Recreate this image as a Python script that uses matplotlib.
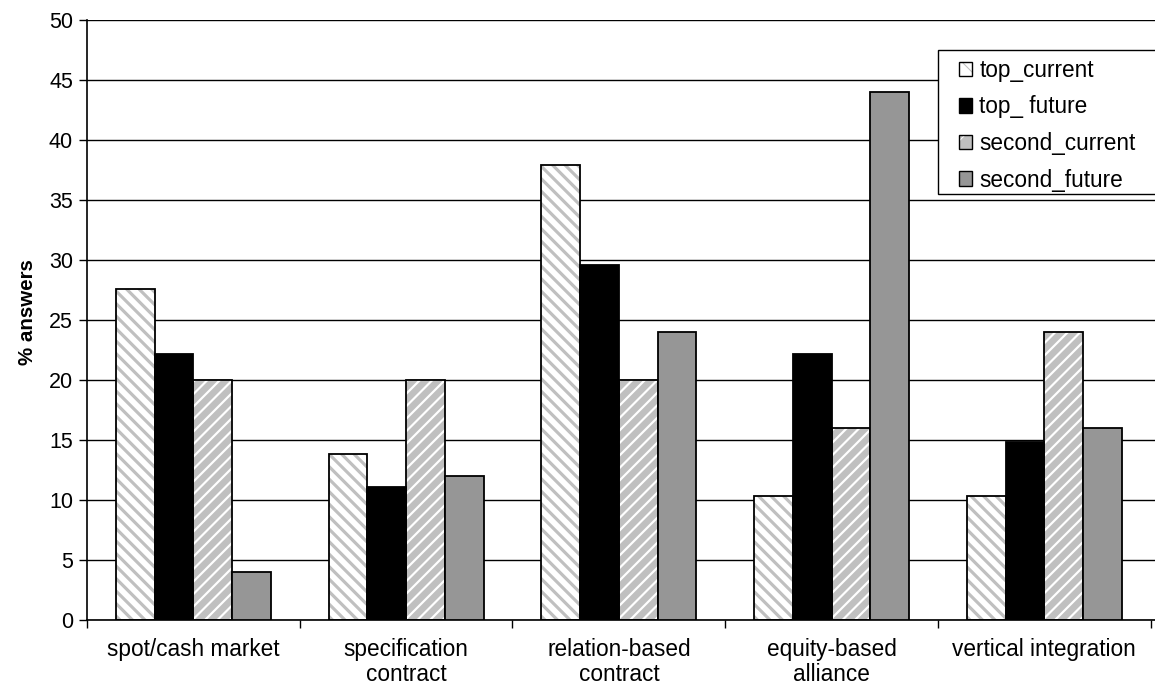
import matplotlib.pyplot as plt
import numpy as np

# drawn at 75 dpi so that the hatch spacing comes out right; point sizes scaled up
DPI = 75
S = 100 / DPI

plt.rcParams['font.family'] = ['Liberation Sans', 'DejaVu Sans']

categories = ['spot/cash market', 'specification\ncontract', 'relation-based\ncontract',
              'equity-based\nalliance', 'vertical integration']
top_current = [27.6, 13.8, 37.9, 10.3, 10.3]
top_future = [22.2, 11.1, 29.6, 22.2, 14.8]
second_current = [20, 20, 20, 16, 24]
second_future = [4, 12, 24, 44, 16]

fig = plt.figure(figsize=(1155 / DPI, 692 / DPI), dpi=DPI)
ax = fig.add_axes([87 / 1155, 1 - 620 / 692, 1 - 87 / 1155, 600 / 692])

x = np.arange(len(categories))
w = 0.182
series = [
    (top_current, 'top_current', 'white', '#c0c0c0', '\\\\', 3.8),
    (top_future, 'top_ future', 'black', None, None, 0),
    (second_current, 'second_current', '#c0c0c0', 'white', '//', 2.6),
    (second_future, 'second_future', '#969696', None, None, 0),
]
handles = []
for i, (vals, name, face, hcol, hatch, hlw) in enumerate(series):
    pos = x + (i - 1.5) * w
    outline = plt.Rectangle((0, 0), 1, 1, facecolor='none' if hatch else face,
                            edgecolor='black', linewidth=1 * S)
    if hatch:
        with plt.rc_context({'hatch.linewidth': hlw * 0.8}):
            ax.bar(pos, vals, w, color=face, edgecolor=hcol, hatch=hatch,
                   linewidth=0, zorder=2)
            fill = plt.Rectangle((0, 0), 1, 1, facecolor=face, edgecolor=hcol,
                                 hatch=hatch[0], linewidth=0)
        handles.append((fill, outline))
    else:
        handles.append(outline)
    ax.bar(pos, vals, w, facecolor='none' if hatch else face, edgecolor='black',
           linewidth=1.3 * S, zorder=3)

ax.set_ylim(0, 50)
ax.set_yticks(range(0, 51, 5))
ax.set_xlim(-0.5, 4.52)
ax.yaxis.grid(True, color='black', linewidth=1 * S)
ax.set_axisbelow(True)
ax.set_xticks(x)
ax.set_xticklabels(categories, fontsize=16.3 * S, linespacing=1.1)
ax.set_xticks(np.arange(-0.5, 5, 1), minor=True)
ax.tick_params(axis='x', which='major', length=0, pad=13 * S)
ax.tick_params(axis='x', which='minor', length=6 * S, width=1 * S, direction='out')
ax.tick_params(axis='y', labelsize=15.5 * S, length=6 * S, direction='out', width=1 * S,
               pad=4 * S)
for s in ['top', 'right']:
    ax.spines[s].set_visible(False)
ax.spines['left'].set_linewidth(1.2 * S)
ax.spines['bottom'].set_linewidth(1.2 * S)
ax.set_ylabel('% answers', fontsize=14.8 * S, fontweight='bold')
ax.yaxis.set_label_coords(-50 / 1068, 0.513)

# legend box, running off the right edge
box = plt.Rectangle((938 / 1155, 1 - 194 / 692), 230 / 1155, 144 / 692,
                    transform=fig.transFigure, facecolor='white', edgecolor='black',
                    linewidth=1 * S, zorder=4, clip_on=False)
ax.add_patch(box)
leg = ax.legend(handles, [s[1] for s in series], loc='upper left',
                bbox_to_anchor=((952 - 87) / 1068, 1 - 32 / 600), fontsize=16.3 * S,
                frameon=False, handlelength=0.6, handleheight=0.6,
                handletextpad=0.3, labelspacing=0.6, borderpad=0.3,
                borderaxespad=0)
leg.set_zorder(5)

fig.savefig('out.png', dpi=DPI)
